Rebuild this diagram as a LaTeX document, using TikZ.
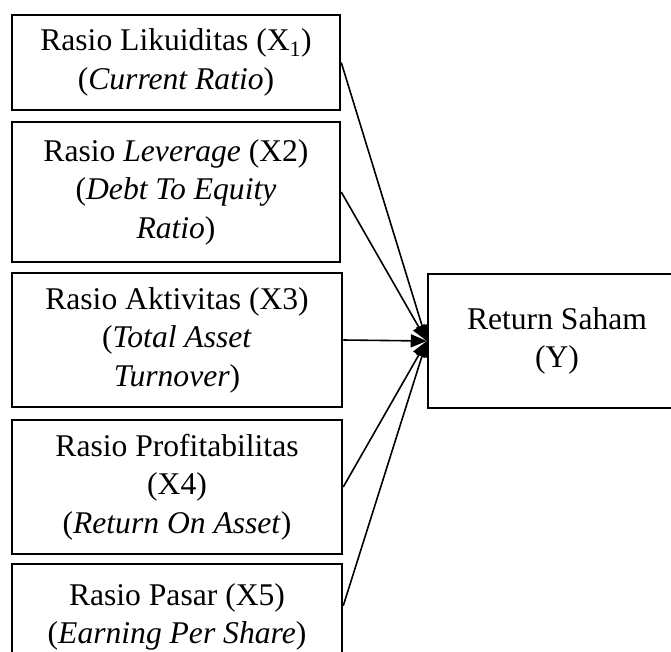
\documentclass[tikz,border=0pt]{standalone}
\usepackage{fontspec}
\setmainfont{Liberation Serif}
\usetikzlibrary{arrows.meta}
\begin{document}
\begin{tikzpicture}[x=1pt,y=-1pt,
 box/.style={draw, line width=2.5pt, rectangle, inner sep=0pt, align=center, font=\fontsize{31.6}{38.5}\selectfont},
 conn/.style={line width=1.6pt, -{Triangle[length=16pt,width=13pt]}}]
\useasboundingbox (0,0) rectangle (671,651);
\clip (0,0) rectangle (671,651);
\node[box, minimum width=328pt, minimum height=95pt] (x1) at (176,62.5) {Rasio Likuiditas (X\textsubscript{1})\\(\textit{Current Ratio})};
\node[box, minimum width=328pt, minimum height=140pt] (x2) at (176,192) {Rasio \textit{Leverage} (X2)\\(\textit{Debt To Equity}\\\textit{Ratio})};
\node[box, minimum width=330pt, minimum height=134pt] (x3) at (177,340) {Rasio Aktivitas (X3)\\(\textit{Total Asset}\\\textit{Turnover})};
\node[box, minimum width=330pt, minimum height=134pt] (x4) at (177,487) {Rasio Profitabilitas\\(X4)\\(\textit{Return On Asset})};
\node[box, minimum width=330pt, minimum height=106pt] (x5) at (177,617) {Rasio Pasar (X5)\\(\textit{Earning Per Share})};
\node[box, minimum width=258pt, minimum height=134pt] (y) at (557,341) {Return Saham\\(Y)};
\draw[conn] (x1.east) -- (y.west);
\draw[conn] (x2.east) -- (y.west);
\draw[conn] (x3.east) -- (y.west);
\draw[conn] (x4.east) -- (y.west);
\draw[conn] ([yshift=-43pt]x5.north east) -- (y.west);
\end{tikzpicture}
\end{document}
